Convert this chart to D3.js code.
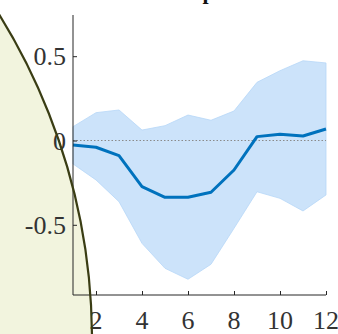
<!DOCTYPE html>
<html><head><meta charset="utf-8">
<script src="https://cdn.jsdelivr.net/npm/d3@7"></script>
<style>body{margin:0;background:#fff}svg{display:block}</style>
</head><body>
<script>
const horizons = [1,2,3,4,5,6,7,8,9,10,11,12];
const response = [-0.027,-0.04,-0.09,-0.274,-0.337,-0.337,-0.307,-0.175,0.023,0.037,0.027,0.068];
const upperBand = [0.082,0.165,0.181,0.062,0.088,0.151,0.12,0.175,0.345,0.414,0.473,0.46];
const lowerBand = [-0.139,-0.234,-0.363,-0.61,-0.758,-0.823,-0.734,-0.521,-0.304,-0.343,-0.418,-0.323];
const xTicks = [2,4,6,8,10,12];
const yTicks = [0.5,0,-0.5];
const titleText = "Output";

const W=338,H=334;
const svg=d3.select("body").append("svg").attr("width",W).attr("height",H);
const x=d3.scaleLinear().domain([1,12]).range([73,326]);
const y=d3.scaleLinear().domain([0,0.5]).range([140.5,56.2]);
const yTop=15,yBot=295;

// background circle fill
const circ={cx:-524,cy:340,r:616};
svg.append("circle").attr("cx",circ.cx).attr("cy",circ.cy).attr("r",circ.r).attr("fill","#f2f4de");

const data=horizons.map((h,i)=>({h,m:response[i],u:upperBand[i],l:lowerBand[i]}));
svg.append("path").datum(data)
  .attr("d",d3.area().x(d=>x(d.h)).y0(d=>y(d.l)).y1(d=>y(d.u)))
  .attr("fill","#cce3fa").attr("stroke","#b6d7f8").attr("stroke-width",0.8);

svg.append("line").attr("x1",x(1)).attr("x2",x(12)).attr("y1",y(0)).attr("y2",y(0))
  .attr("stroke","#8a8a8a").attr("stroke-width",1).attr("stroke-dasharray","1.5,2");

svg.append("path").datum(data)
  .attr("d",d3.line().x(d=>x(d.h)).y(d=>y(d.m)))
  .attr("fill","none").attr("stroke","#0072bd").attr("stroke-width",3).attr("stroke-linejoin","round");

// axes
const yAx=svg.append("g").attr("transform",`translate(${x(1)},0)`)
  .call(d3.axisLeft(y.copy().range([y(0),y(0.5)])).tickValues([]).tickSize(0));
yAx.select(".domain").remove();
svg.append("line").attr("x1",x(1)).attr("x2",x(1)).attr("y1",yTop).attr("y2",yBot).attr("stroke","#262626").attr("stroke-width",1);
svg.append("line").attr("x1",x(1)).attr("x2",x(12)).attr("y1",yBot).attr("y2",yBot).attr("stroke","#262626").attr("stroke-width",1);

const yg=svg.append("g").attr("transform",`translate(${x(1)},0)`).call(d3.axisRight(y).tickValues(yTicks).tickSize(4).tickFormat(""));
yg.select(".domain").remove();
yg.selectAll("line").attr("stroke","#262626");
const xg=svg.append("g").attr("transform",`translate(0,${yBot})`).call(d3.axisTop(x).tickValues(xTicks).tickSize(4).tickFormat(""));
xg.select(".domain").remove();
xg.selectAll("line").attr("stroke","#262626");

const font="'Liberation Serif','DejaVu Serif',serif";
svg.selectAll(".yl").data(yTicks).enter().append("text")
  .attr("x",66).attr("y",d=>y(d)+9).attr("text-anchor","end")
  .attr("font-family",font).attr("font-size",26).attr("fill","#333")
  .text(d=>d===0?"0":String(d));
svg.selectAll(".xl").data(xTicks).enter().append("text")
  .attr("x",d=>x(d)).attr("y",329).attr("text-anchor","middle")
  .attr("font-family",font).attr("font-size",26).attr("fill","#333")
  .text(d=>d);

svg.append("text").attr("x",200).attr("y",-1).attr("text-anchor","middle")
  .attr("font-family",font).attr("font-weight","bold").attr("font-size",22).attr("fill","#111").text(titleText);

// circle outline on top
svg.append("circle").attr("cx",circ.cx).attr("cy",circ.cy).attr("r",circ.r)
  .attr("fill","none").attr("stroke","#3a3d14").attr("stroke-width",2.2);
</script>
</body></html>
